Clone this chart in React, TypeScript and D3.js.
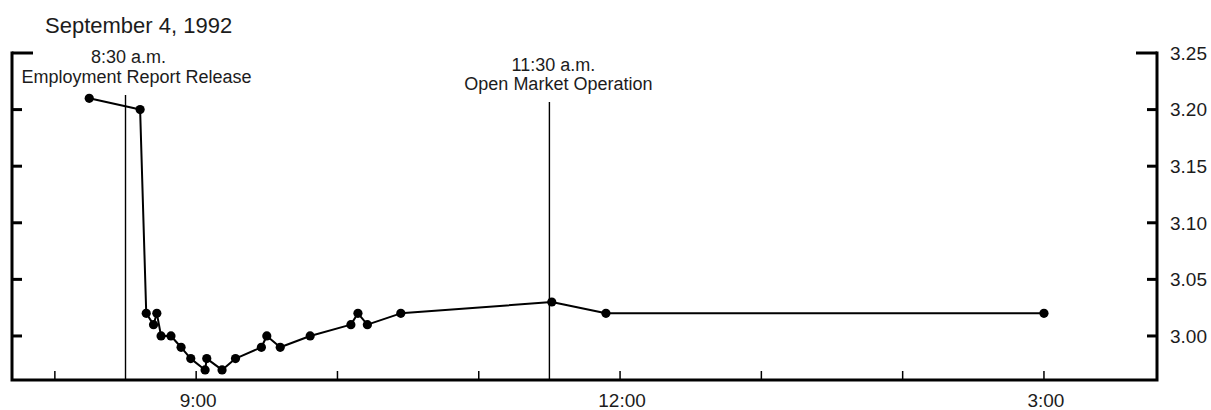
import React from "react";
import * as d3 from "d3";

// Federal funds rate, intraday, September 4, 1992 (times in minutes after midnight)
const times = [
  494.6, 516.2, 518.8, 521.9, 523.3, 525.1, 529.3, 533.6, 537.7, 543.8, 544.5, 551,
  556.7, 567.7, 570, 575.7, 588.4, 605.7, 608.7, 612.7, 626.9, 691, 714, 900,
];
const rates = [
  3.21, 3.2, 3.02, 3.01, 3.02, 3.0, 3.0, 2.99, 2.98, 2.97, 2.98, 2.97,
  2.98, 2.99, 3.0, 2.99, 3.0, 3.01, 3.02, 3.01, 3.02, 3.03, 3.02, 3.02,
];

const hourTicks = [8, 9, 10, 11, 12, 13, 14, 15];
const labeledHours = [9, 12, 15];
const hourLabels = ["9:00", "12:00", "3:00"];
const rateTicks = [3.0, 3.05, 3.1, 3.15, 3.2, 3.25];

const eventTimes = [510, 690];
const eventTimeLabels = ["8:30 a.m.", "11:30 a.m."];
const eventNames = ["Employment Report Release", "Open Market Operation"];

const title = "September 4, 1992";

const W = 1211;
const H = 410;
const FONT = "'Liberation Sans', Arial, Helvetica, sans-serif";
const INK = "#1c1c1c";

export default function App() {
  const x = d3.scaleLinear().domain([461.8, 948]).range([12, 1157]);
  const y = d3.scaleLinear().domain([2.9611, 3.25]).range([380, 53]);

  const pts = times.map((t, i) => [x(t), y(rates[i])] as [number, number]);
  const line = d3.line<[number, number]>()(pts) || "";

  const yTop = y(3.25);
  const yBot = y.range()[0];
  const xL = x.range()[0];
  const xR = x.range()[1];

  // event line tops and label offsets
  const eventLineTop = [95, 102];
  const timeLabelDx = [3, 4];
  const nameLabelDx = [11, 9];
  const timeBaseline = [63, 71];
  const nameBaseline = [83, 90];

  return (
    <svg
      width={W}
      height={H}
      style={{ position: "absolute", left: 0, top: 0, background: "#fff" }}
      fontFamily={FONT}
    >
      <text x={45} y={32.5} fontSize={22} fill={INK}>
        {title}
      </text>

      {/* frame: left, right and bottom axes */}
      <path
        d={`M${xL},${yTop} V${yBot} H${xR} V${yTop}`}
        fill="none"
        stroke="#000"
        strokeWidth={3}
        strokeLinecap="square"
      />

      {/* rate ticks on both sides */}
      {rateTicks.map((v, i) => {
        const len = v === 3.25 ? 21 : 10;
        return (
          <g key={"rt" + i}>
            <line x1={xL} x2={xL + len} y1={y(v)} y2={y(v)} stroke="#000" strokeWidth={3} />
            <line x1={xR - len} x2={xR} y1={y(v)} y2={y(v)} stroke="#000" strokeWidth={3} />
            <text
              x={xR + 13}
              y={y(v)}
              dy="0.36em"
              fontSize={19}
              fill={INK}
            >
              {d3.format(".2f")(v)}
            </text>
          </g>
        );
      })}

      {/* hour ticks */}
      {hourTicks.map((h) => (
        <line
          key={"ht" + h}
          x1={x(h * 60)}
          x2={x(h * 60)}
          y1={yBot}
          y2={yBot - 9}
          stroke="#000"
          strokeWidth={1.5}
        />
      ))}
      {labeledHours.map((h, i) => (
        <text
          key={"hl" + h}
          x={x(h * 60) + 2}
          y={407}
          textAnchor="middle"
          fontSize={19}
          fill={INK}
        >
          {hourLabels[i]}
        </text>
      ))}

      {/* event markers */}
      {eventTimes.map((t, i) => (
        <g key={"ev" + i}>
          <line
            x1={x(t)}
            x2={x(t)}
            y1={eventLineTop[i]}
            y2={yBot}
            stroke="#000"
            strokeWidth={1.4}
          />
          <text
            x={x(t) + timeLabelDx[i]}
            y={timeBaseline[i]}
            textAnchor="middle"
            fontSize={18}
            fill={INK}
          >
            {eventTimeLabels[i]}
          </text>
          <text
            x={x(t) + nameLabelDx[i]}
            y={nameBaseline[i]}
            textAnchor="middle"
            fontSize={18}
            fill={INK}
          >
            {eventNames[i]}
          </text>
        </g>
      ))}

      {/* rate series */}
      <path d={line} fill="none" stroke="#000" strokeWidth={2} strokeLinejoin="round" />
      {pts.map(([px, py], i) => (
        <circle key={"p" + i} cx={px} cy={py} r={4.6} fill="#000" />
      ))}
    </svg>
  );
}
